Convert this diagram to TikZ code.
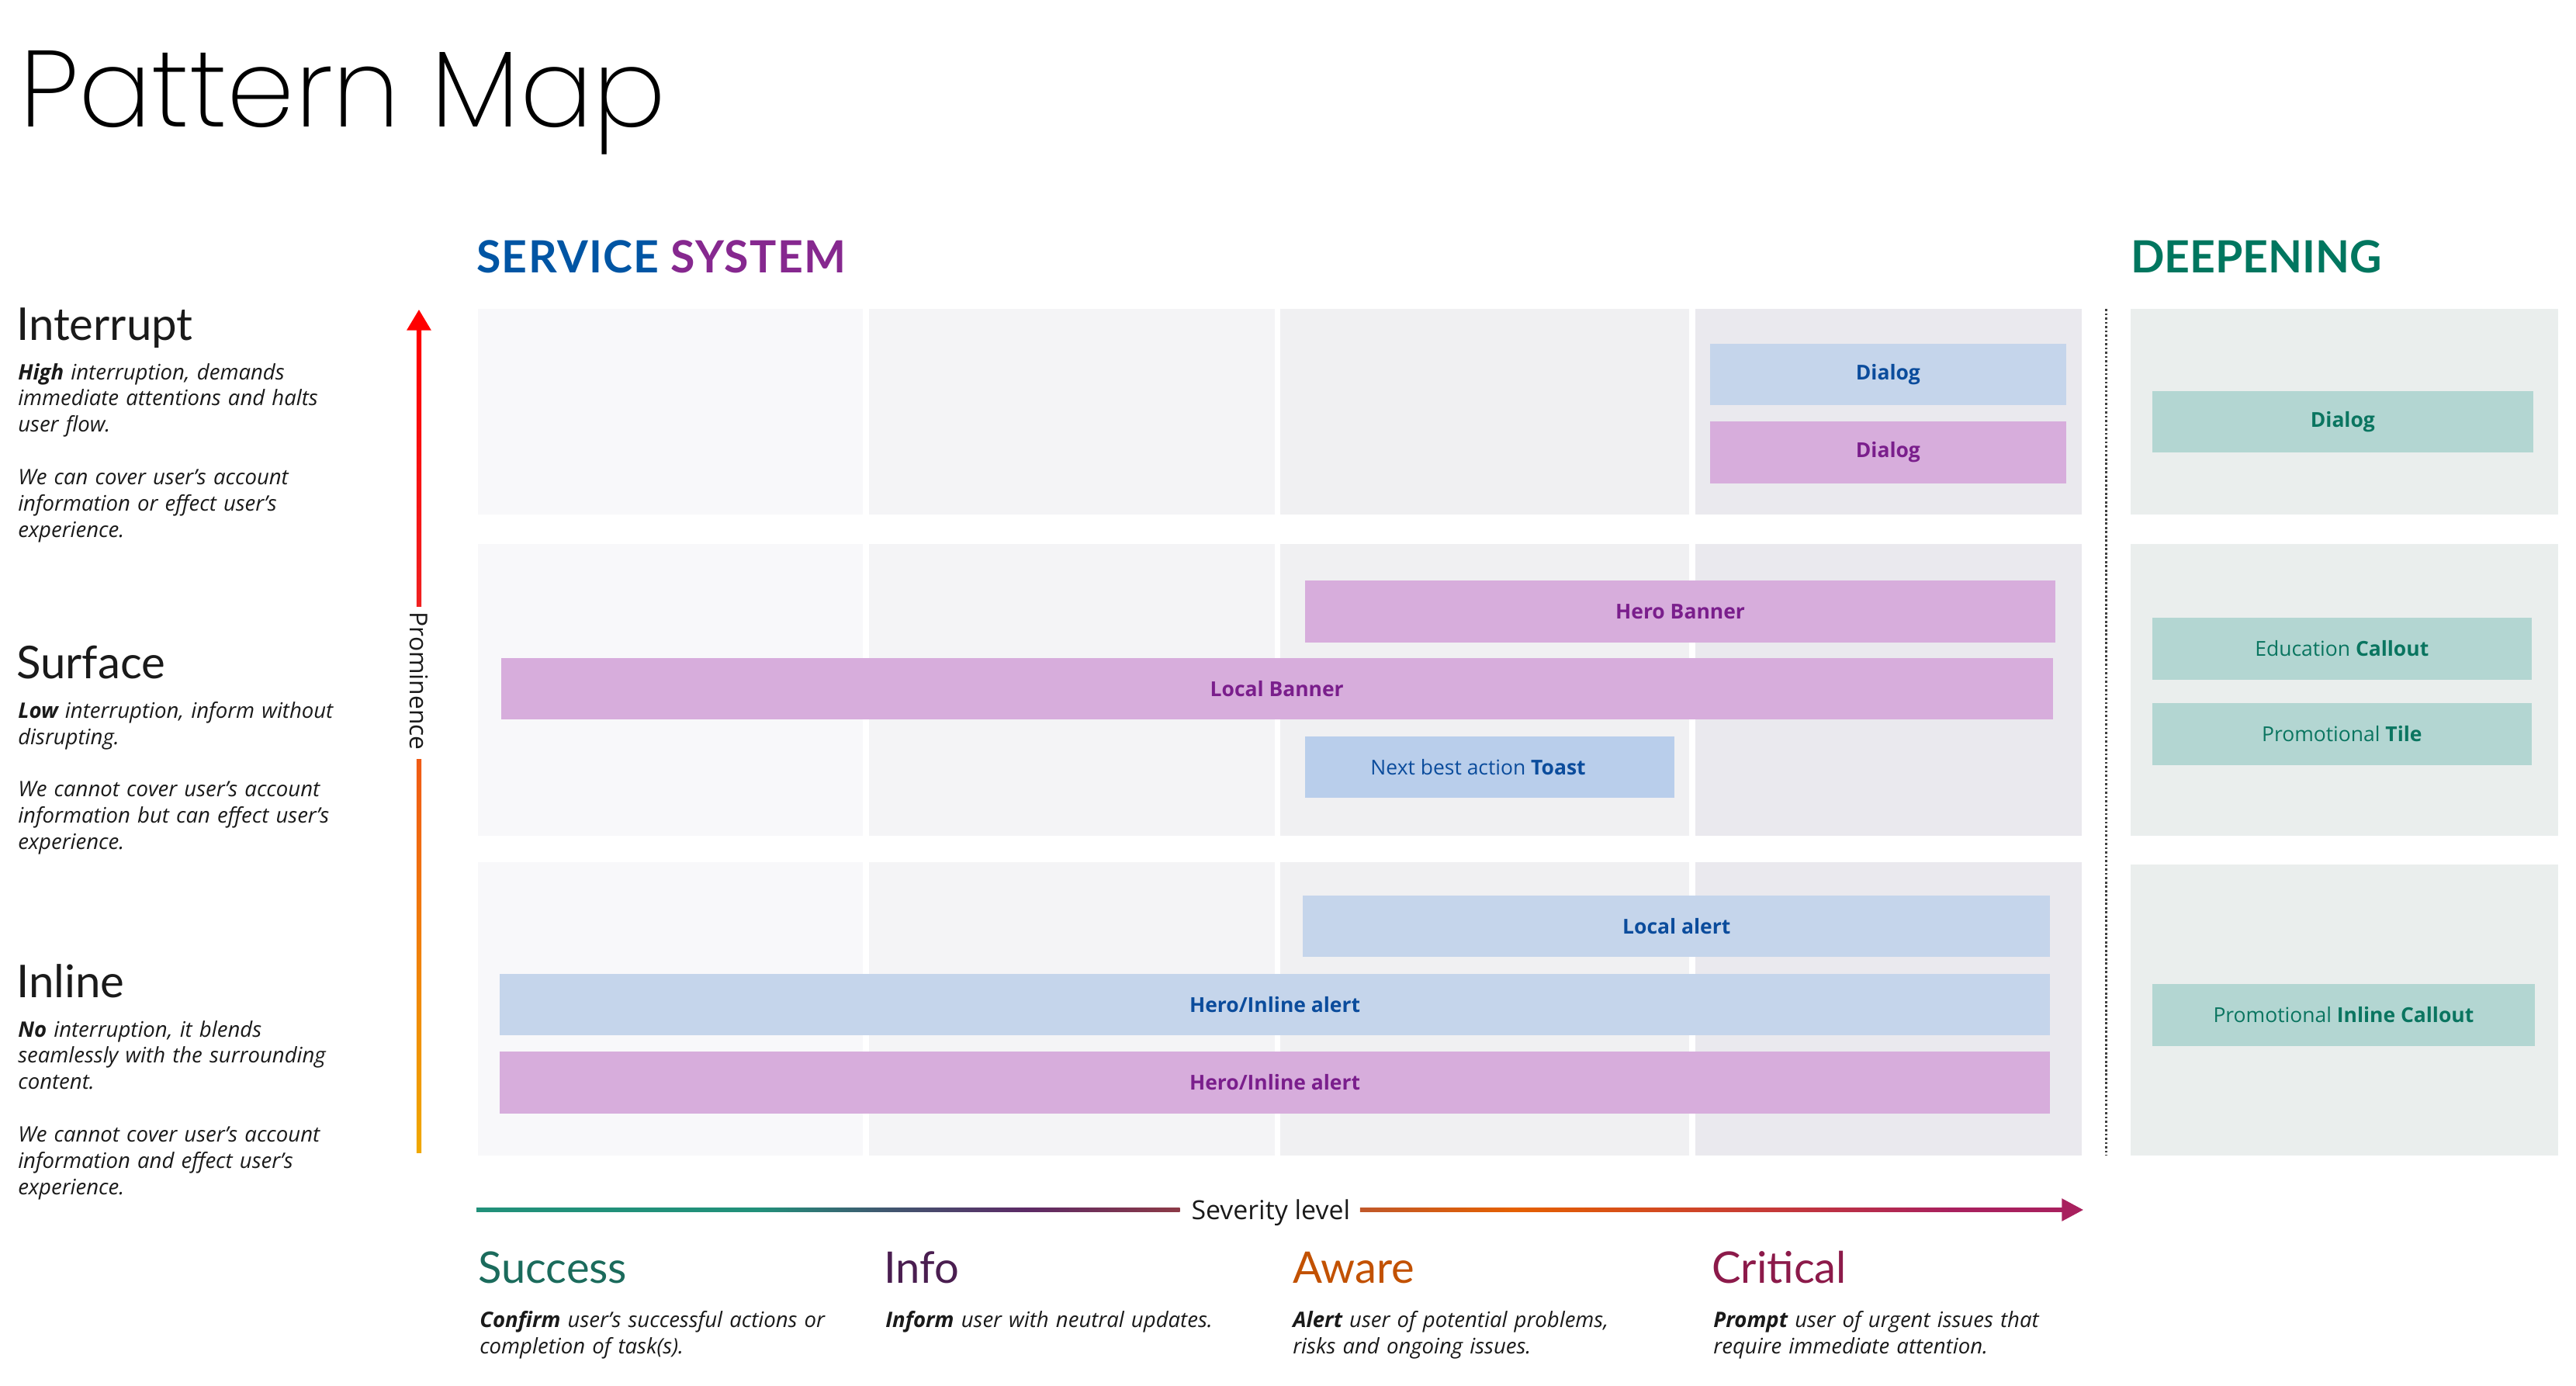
\documentclass[tikz,border=0pt]{standalone}
\usepackage{fontspec}
\setmainfont{Open Sans}
\newfontfamily\titlefont{Poppins}[UprightFont=* ExtraLight]
\newfontfamily\headfont{Lato}
\usetikzlibrary{positioning,calc}

\definecolor{svcblue}{HTML}{0055A4}
\definecolor{svcpurple}{HTML}{86288F}
\definecolor{deepgreen}{HTML}{00765F}
\definecolor{colA}{HTML}{F8F8FA}
\definecolor{colB}{HTML}{F4F4F6}
\definecolor{colC}{HTML}{F0F0F2}
\definecolor{colD}{HTML}{EAE9EE}
\definecolor{deeppanel}{HTML}{EAEEED}
\definecolor{tagblue}{HTML}{C5D5EB}
\definecolor{toastblue}{HTML}{B9CEEB}
\definecolor{tagpurple}{HTML}{D7ADDC}
\definecolor{tagteal}{HTML}{B3D6D2}
\definecolor{txtblue}{HTML}{0B4C9C}
\definecolor{txtpurple}{HTML}{7A1E8C}
\definecolor{txtteal}{HTML}{0A7560}
\definecolor{inkdark}{HTML}{1A1A1A}
\definecolor{sucgreen}{HTML}{1B6B5C}
\definecolor{infopurple}{HTML}{4A1E50}
\definecolor{awareorange}{HTML}{C25100}
\definecolor{critred}{HTML}{8C1A4A}
\definecolor{promyellow}{HTML}{F0A800}
\definecolor{promorange}{HTML}{F05A14}
\definecolor{promred}{HTML}{F02020}
\definecolor{sevteal}{HTML}{21907A}
\definecolor{sevslate}{HTML}{3E5A70}
\definecolor{sevpurple}{HTML}{5C2A66}
\definecolor{sevbrown}{HTML}{8C3A46}
\definecolor{sevrust}{HTML}{C0582A}
\definecolor{sevorange}{HTML}{E56000}
\definecolor{sevred}{HTML}{C4383A}
\definecolor{sevmagenta}{HTML}{A8205E}

\pgfdeclarehorizontalshading{sevleft}{100bp}{color(0bp)=(sevteal); color(25bp)=(sevteal); color(45bp)=(sevteal); color(53.5bp)=(sevslate); color(64bp)=(sevpurple); color(75bp)=(sevbrown); color(100bp)=(sevbrown)}
\pgfdeclarehorizontalshading{sevright}{100bp}{color(0bp)=(sevrust); color(25bp)=(sevrust); color(36bp)=(sevorange); color(55bp)=(sevred); color(67bp)=(sevmagenta); color(100bp)=(sevmagenta)}

\begin{document}
\begin{tikzpicture}[
    x=1pt, y=-1pt,
    outer sep=0pt,
    tag/.style={anchor=north west, inner sep=0pt, minimum height=37.5, font=\fontsize{12.5}{15}\selectfont},
    bluetag/.style={tag, fill=tagblue, text=txtblue, minimum width=#1},
    purpletag/.style={tag, fill=tagpurple, text=txtpurple, minimum width=#1},
    deeptag/.style={tag, fill=tagteal, text=txtteal, minimum width=#1},
    head/.style={anchor=base west, inner sep=0pt, font=\headfont\bfseries\fontsize{27}{30}\selectfont},
    tier/.style={anchor=base west, inner sep=0pt, text=inkdark, font=\headfont\fontsize{27.5}{30}\selectfont},
    tiernote/.style={anchor=base west, inner sep=0pt, text width=250, align=left, text=inkdark, font=\itshape\fontsize{13}{16}\selectfont},
    sevhead/.style={anchor=base west, inner sep=0pt, font=\headfont\fontsize{26.5}{30}\selectfont}
]
    \fill[white] (0,0) rectangle (1568,843.5);
    \useasboundingbox (0,0) rectangle (1568,843.5);

    \node [anchor=base west, inner sep=0pt, font=\titlefont\fontsize{66}{70}\selectfont] (title) at (12,77) {Pattern Map};
    \node [head] (svchead) at (290,166) {\addfontfeature{LetterSpace=2.5}\textcolor{svcblue}{SERVICE} \textcolor{svcpurple}{SYSTEM}};
    \node [head, text=deepgreen] (deephead) at (1297,166) {DEEPENING};

    % severity columns x prominence rows
    \foreach \x/\w/\c in {291/234/colA, 529/247/colB, 779.5/248.5/colC, 1032/235/colD} {
        \foreach \y/\h in {188/125, 331/177.5, 524.5/178.5} {
            \fill[\c] (\x,\y) rectangle ++(\w,\h);
        }
    }
    \foreach \y/\h in {188/125, 331/177.5, 526/177} {
        \fill[deeppanel] (1297,\y) rectangle ++(260,\h);
    }

    \coordinate (split-top) at (1282,188);
    \coordinate (split-bot) at (1282,703);
    \draw[line width=1.3pt, dash pattern=on 1.3pt off 1.3pt, black!75] (split-top) -- (split-bot);

    \node [bluetag=216.5] (dialog-blue) at (1041,209) {\textbf{Dialog}};
    \node [purpletag=216.5] (dialog-purple) at (1041,256.5) {\textbf{Dialog}};
    \node [purpletag=456.5] (hero-banner) at (794.5,353.5) {\textbf{Hero Banner}};
    \node [purpletag=944.5] (local-banner) at (305,400.5) {\textbf{Local Banner}};
    \node [bluetag=224.5, fill=toastblue] (toast) at (794.5,448) {Next best action \textbf{Toast}\hspace*{14pt}};
    \node [bluetag=455] (local-alert) at (793,545) {\textbf{Local alert}};
    \node [bluetag=944] (hero-alert-blue) at (304,592.5) {\textbf{Hero/Inline alert}};
    \node [purpletag=944] (hero-alert-purple) at (304,640) {\textbf{Hero/Inline alert}};

    \node [deeptag=232] (deep-dialog) at (1310,238) {\textbf{Dialog}};
    \node [deeptag=231] (deep-edu) at (1310,376) {Education \textbf{Callout}};
    \node [deeptag=231] (deep-tile) at (1310,428) {Promotional \textbf{Tile}};
    \node [deeptag=233] (deep-inline) at (1310,599) {Promotional \textbf{Inline Callout}};

    \node [tier] (interrupt) at (10,207) {Interrupt};
    \node [tiernote] (interrupt-note) at (11,231) {\textbf{High} interruption, demands\\immediate attentions and halts\\user flow.\\[16pt]We can cover user’s account\\information or effect user’s\\experience.};
    \node [tier] (surface) at (10,413) {Surface};
    \node [tiernote] (surface-note) at (11,437) {\textbf{Low} interruption, inform without\\disrupting.\\[16pt]We cannot cover user’s account\\information but can effect user’s\\experience.};
    \node [tier] (inline) at (10,607) {Inline};
    \node [tiernote] (inline-note) at (11,631) {\textbf{No} interruption, it blends\\seamlessly with the surrounding\\content.\\[16pt]We cannot cover user’s account\\information and effect user’s\\experience.};

    \node [rotate=-90, inner sep=0pt, text=inkdark, font=\fontsize{15}{18}\selectfont] (prominence) at (255,414.5) {Prominence};
    \coordinate (prom-bot) at (255,701.5);
    \coordinate (prom-tip) at (255,188.5);
    \shade[bottom color=promyellow, top color=promorange] ($(prom-bot)+(-1.5,0)$) rectangle ($(prominence.east)+(1.5,5.5)$);
    \shade[bottom color=promred, top color=red] ($(prominence.west)+(-1.5,-3.5)$) rectangle ($(prom-tip)+(1.5,12)$);
    \fill[red] (prom-tip) -- ++(7.5,12.5) -- ++(-15,0) -- cycle;

    \node [anchor=base, inner sep=0pt, text=inkdark, font=\fontsize{16}{18}\selectfont] (severity) at (773.5,742) {Severity level};
    \coordinate (sev-start) at (290,736.3);
    \coordinate (sev-tip) at (1268,736.3);
    \shade[shading=sevleft] ($(sev-start)+(0,-1.4)$) rectangle ($(severity.west |- sev-start)+(-7,1.4)$);
    \shade[shading=sevright] ($(severity.east |- sev-start)+(6,-1.4)$) rectangle ($(sev-tip)+(-12,1.4)$);
    \fill[sevmagenta] (sev-tip) -- ++(-13,-7) -- ++(0,14) -- cycle;

    \node [sevhead, text=sucgreen] (success) at (291,781) {Success};
    \node [tiernote, text width=240] (success-note) at (292,808) {\textbf{Confirm} user’s successful actions or\\completion of task(s).};
    \node [sevhead, text=infopurple] (info) at (538,781) {Info};
    \node [tiernote, text width=240] (info-note) at (539,808) {\textbf{Inform} user with neutral updates.};
    \node [sevhead, text=awareorange] (aware) at (787,781) {Aware};
    \node [tiernote, text width=240] (aware-note) at (787,808) {\textbf{Alert} user of potential problems,\\risks and ongoing issues.};
    \node [sevhead, text=critred] (critical) at (1042,781) {Critical};
    \node [tiernote, text width=240] (critical-note) at (1043,808) {\textbf{Prompt} user of urgent issues that\\require immediate attention.};
\end{tikzpicture}
\end{document}
